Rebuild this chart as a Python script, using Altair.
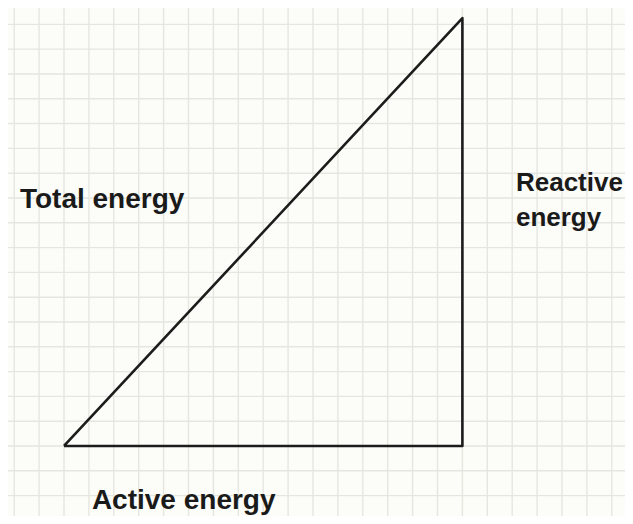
import altair as alt
import pandas as pd

# Triangle vertices in grid units (active energy along x, reactive energy along y)
tri_u = [0, 16, 16, 0]
tri_v = [0, 0, 17.25, 0]
tri_order = [0, 1, 2, 3]

# Labels
label_text = ["Total energy", "Reactive", "energy", "Active energy"]
label_u = [-1.77, 18.15, 18.15, 1.12]
label_v = [9.6, 10.28, 8.87, -2.56]
label_size = [28, 26, 26, 28]

# Grid lines (grid units)
grid_x = list(range(-2, 23))
grid_y = list(range(-2, 18))

tri = pd.DataFrame({"u": tri_u, "v": tri_v, "o": tri_order})
labels = pd.DataFrame({"t": label_text, "u": label_u, "v": label_v, "s": label_size})
gx = pd.DataFrame({"u": grid_x})
gy = pd.DataFrame({"v": grid_y})

xs = alt.Scale(domain=[-2.249, 22.53], nice=False, zero=False)
ys = alt.Scale(domain=[-2.823, 17.66], nice=False, zero=False)

vgrid = alt.Chart(gx).mark_rule(color="#e6e6e1", strokeWidth=1.4).encode(
    x=alt.X("u:Q", scale=xs, axis=None)
)
hgrid = alt.Chart(gy).mark_rule(color="#e6e6e1", strokeWidth=1.4).encode(
    y=alt.Y("v:Q", scale=ys, axis=None)
)

line = alt.Chart(tri).mark_line(color="#1c1c1c", strokeWidth=2.6, strokeJoin="round").encode(
    x=alt.X("u:Q", scale=xs, axis=None),
    y=alt.Y("v:Q", scale=ys, axis=None),
    order="o:Q",
)

text = alt.Chart(labels).mark_text(
    align="left", baseline="alphabetic", font="Liberation Sans",
    fontWeight="bold", color="#1a1a1a"
).encode(
    x=alt.X("u:Q", scale=xs, axis=None),
    y=alt.Y("v:Q", scale=ys, axis=None),
    text="t:N",
    size=alt.Size("s:Q", scale=None, legend=None),
)

chart = (vgrid + hgrid + line + text).properties(
    width=617, height=508, padding=0,
    autosize=alt.AutoSizeParams(type="none"),
    background="#fcfcf8",
).configure_view(stroke=None, fill="#fcfcf8")

chart.save("out.html", embed_options={"renderer": "svg", "actions": False})
